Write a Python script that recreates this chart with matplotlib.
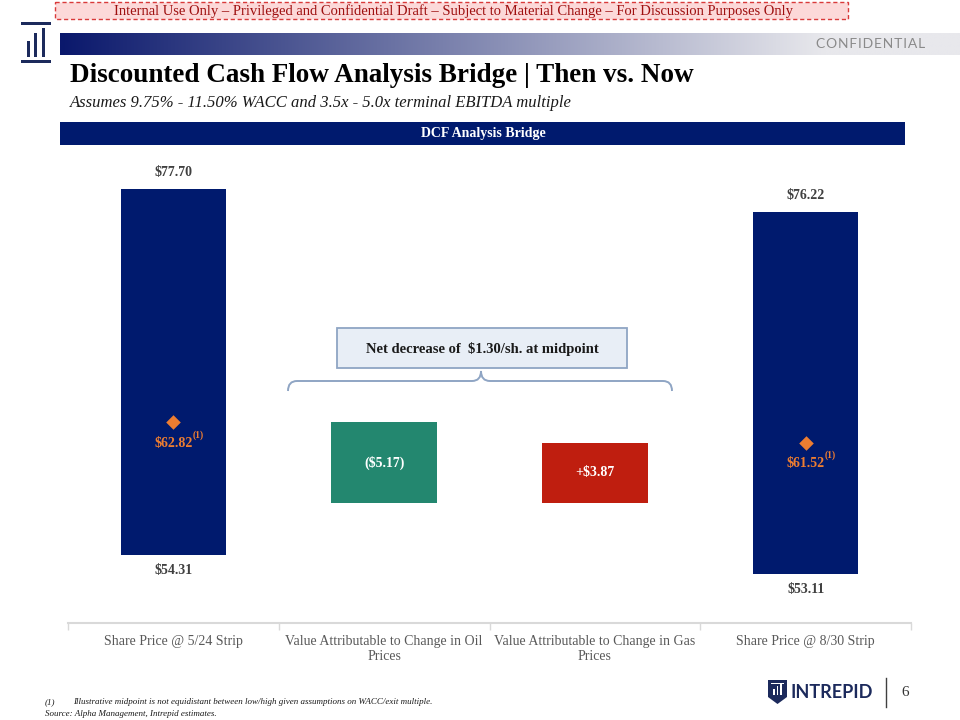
import numpy as np
import matplotlib
matplotlib.use("Agg")
import matplotlib.pyplot as plt
from matplotlib.patches import Rectangle, Polygon, PathPatch
from matplotlib.path import Path
import matplotlib.transforms as mtransforms

plt.rcParams['text.parse_math'] = False
plt.rcParams['font.family'] = ['Liberation Serif', 'DejaVu Serif']

# ---------------- data ----------------
categories = ["Share Price @ 5/24 Strip",
              "Value Attributable to Change in Oil\nPrices",
              "Value Attributable to Change in Gas\nPrices",
              "Share Price @ 8/30 Strip"]
start_low, start_high, start_mid = 54.31, 77.70, 62.82
oil_delta = -5.17
gas_delta = 3.87
end_low, end_high, end_mid = 53.11, 76.22, 61.52
y_min, y_max = 50, 80

NAVY = "#001a6e"
GREEN = "#23876f"
RED = "#bf1e0f"
ORANGE = "#ed7d31"
LABEL = "#404040"

fig = plt.figure(figsize=(9.6, 7.2), dpi=100)
W, H = 960, 720
pix = mtransforms.Affine2D().scale(1 / W, -1 / H).translate(0, 1) + fig.transFigure

def ftext(x, y, s, **kw):
    fig.text(x / W, 1 - y / H, s, **kw)

# ---------------- header ----------------
fig.patches.append(Rectangle((55, 2), 793, 17, transform=pix, facecolor="#fcd9d9",
                             edgecolor="#d93a3a", linestyle=(0, (3, 2)), lw=1.0))
ftext(453, 11, "Internal Use Only \u2013 Privileged and Confidential Draft \u2013 Subject to Material Change \u2013 For Discussion Purposes Only",
      ha="center", va="center", fontsize=10.5, color="#9e1010")

# logo top-left
for (x0, y0, w, h) in [(21, 22, 30, 3), (21, 60, 30, 3)]:
    fig.patches.append(Rectangle((x0, y0), w, h, transform=pix, facecolor="#1c2a5c", edgecolor="none"))
for (x0, ytop) in [(27, 41), (34, 33), (41.5, 28)]:
    fig.patches.append(Rectangle((x0, ytop), 3, 57 - ytop, transform=pix, facecolor="#1c2a5c", edgecolor="none"))

# gradient band
gax = fig.add_axes([60 / W, 1 - 55 / H, 900 / W, 22 / H])
c0 = np.array([10, 24, 108]) / 255
c1 = np.array([232, 232, 236]) / 255
t = np.linspace(0, 1, 400)
t2 = np.clip(t / 0.85, 0, 1)
grad = (c0[None, :] * (1 - t2[:, None]) + c1[None, :] * t2[:, None])[None, :, :]
gax.imshow(grad, aspect="auto", extent=[0, 1, 0, 1])
gax.set_axis_off()
ftext(925, 44, "\u200a".join("CONFIDENTIAL"), ha="right", va="center",
      fontsize=10, color="#8a8a8a", family=["Lato", "DejaVu Sans"])

ftext(70, 75, "Discounted Cash Flow Analysis Bridge | Then vs. Now", ha="left", va="center",
      fontsize=19.5, fontweight="bold", color="#000000")
ftext(70, 103, "Assumes 9.75% - 11.50% WACC and 3.5x - 5.0x terminal EBITDA multiple", ha="left",
      va="center", fontsize=12, style="italic", color="#1a1a1a")

fig.patches.append(Rectangle((60, 122), 845, 23, transform=pix, facecolor=NAVY, edgecolor="none"))
ftext(483, 134, "DCF Analysis Bridge", ha="center", va="center", fontsize=10,
      fontweight="bold", color="white")

# ---------------- chart ----------------
ax = fig.add_axes([68 / W, 1 - 623 / H, (911 - 68) / W, (623 - 153) / H])
x = np.arange(len(categories))
bw = 0.5
bottoms = [start_low, start_mid + oil_delta, start_mid + oil_delta, end_low]
heights = [start_high - start_low, -oil_delta, gas_delta, end_high - end_low]
colors = [NAVY, GREEN, RED, NAVY]
ax.bar(x, heights, bottom=bottoms, width=bw, color=colors, edgecolor="none", zorder=2)

ax.set_xlim(-0.5, len(categories) - 0.5)
ax.set_ylim(y_min, y_max)
for s in ["top", "left", "right"]:
    ax.spines[s].set_visible(False)
ax.spines["bottom"].set_color("#d9d9d9")
ax.spines["bottom"].set_linewidth(1.5)
ax.set_yticks([])
ax.set_xticks(x)
ax.set_xticklabels(categories, fontsize=10, color="#595959", linespacing=1.2)
ax.tick_params(axis="x", which="major", length=0, pad=9)
ax.set_xticks(np.arange(-0.5, len(categories), 1.0), minor=True)
ax.tick_params(axis="x", which="minor", length=5, color="#d9d9d9", width=1)

# top / bottom value labels
for xi, top, bot in [(0, start_high, start_low), (3, end_high, end_low)]:
    ax.annotate(f"${top:.2f}", (xi, top), xytext=(0, 10), textcoords="offset pixels",
                ha="center", va="bottom", fontsize=10, fontweight="bold", color=LABEL)
    ax.annotate(f"${bot:.2f}", (xi, bot), xytext=(0, -9), textcoords="offset pixels",
                ha="center", va="top", fontsize=10, fontweight="bold", color=LABEL)

# delta labels
ax.text(1, start_mid + oil_delta / 2, f"(${-oil_delta:.2f})", ha="center", va="center",
        fontsize=10, fontweight="bold", color="white")
ax.text(2, start_mid + oil_delta + gas_delta / 2, f"+${gas_delta:.2f}", ha="center",
        va="center", fontsize=10, fontweight="bold", color="white")

# midpoint diamonds
ax.scatter([0, 3], [start_mid, end_mid], marker="D", s=55, color=ORANGE, zorder=3, linewidths=0)
for xi, v in [(0, start_mid), (3, end_mid)]:
    ax.annotate(f"${v:.2f}", (xi, v), xytext=(0, -21), textcoords="offset pixels",
                ha="center", va="center", fontsize=10, fontweight="bold", color=ORANGE)
    ax.annotate("(1)", (xi, v), xytext=(19, -13), textcoords="offset pixels",
                ha="left", va="center", fontsize=7, fontweight="bold", color=ORANGE)

# bracket + callout
BR = "#8fa5c4"
fig.patches.append(Rectangle((337, 328), 290, 40, transform=pix, facecolor="#e8eef6",
                             edgecolor=BR, lw=1.3))
net = start_mid - end_mid
ftext(482, 349, f"Net decrease of  ${net:.2f}/sh. at midpoint", ha="center", va="center",
      fontsize=10.5, fontweight="bold", color="#1a1a1a")
verts = [(288, 391), (288, 381), (297, 381),
         (472, 381), (481, 381), (481, 371),
         (481, 381), (490, 381),
         (663, 381), (672, 381), (672, 391)]
codes = [Path.MOVETO, Path.CURVE3, Path.CURVE3,
         Path.LINETO, Path.CURVE3, Path.CURVE3,
         Path.CURVE3, Path.CURVE3,
         Path.LINETO, Path.CURVE3, Path.CURVE3]
fig.patches.append(PathPatch(Path(verts, codes), transform=pix, facecolor="none",
                             edgecolor=BR, lw=1.4))

# ---------------- footer ----------------
ftext(45, 702, "(1)", ha="left", va="center", fontsize=6.5, style="italic", color="#1a1a1a")
ftext(73, 702, "Illustrative midpoint is not equidistant between low/high given assumptions on WACC/exit multiple.",
      ha="left", va="center", fontsize=6.5, style="italic", color="#1a1a1a")
ftext(45, 714, "Source: Alpha Management, Intrepid estimates.", ha="left", va="center",
      fontsize=6.5, style="italic", color="#1a1a1a")

# Intrepid logo
fig.patches.append(Polygon([(768, 680), (787, 680), (787, 697), (777.5, 704), (768, 697)],
                           closed=True, transform=pix, facecolor="#1c2a5c", edgecolor="none"))
for (x0, ytop) in [(773, 689), (776.5, 686), (780, 684)]:
    fig.patches.append(Rectangle((x0, ytop), 1.6, 695 - ytop, transform=pix, facecolor="white", edgecolor="none"))
fig.patches.append(Rectangle((771, 683), 13, 1.2, transform=pix, facecolor="white", edgecolor="none"))
ftext(790, 692, "INTREPID", ha="left", va="center", fontsize=13, fontweight="bold",
      color="#1c2a5c", family=["Lato", "DejaVu Sans"])
fig.lines.append(plt.Line2D([886, 886], [678, 707], transform=pix, color="#404040", lw=1))
ftext(905, 692, "6", ha="center", va="center", fontsize=11, color="#333333")

fig.savefig("out.png", dpi=100)
